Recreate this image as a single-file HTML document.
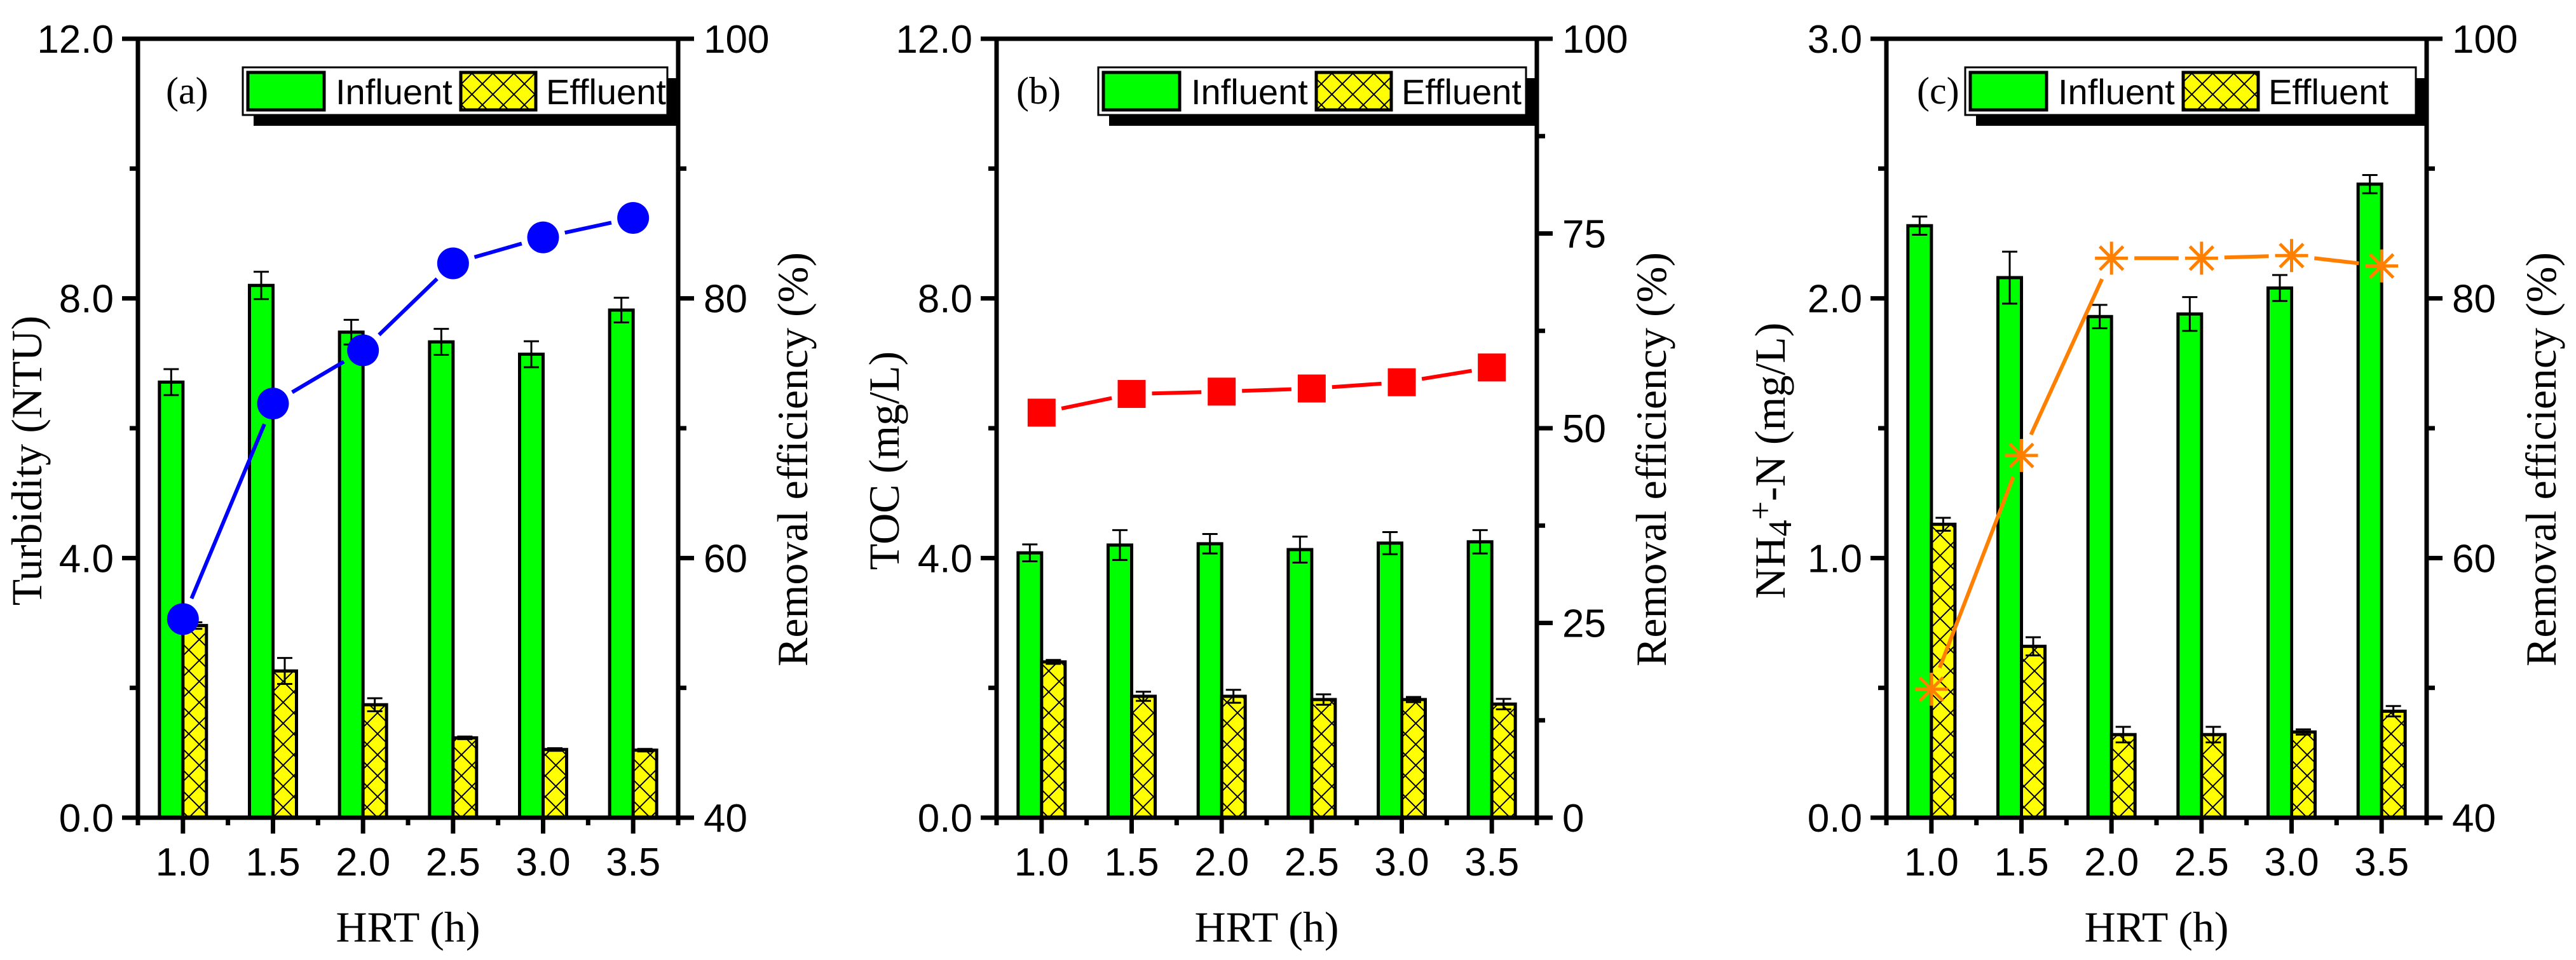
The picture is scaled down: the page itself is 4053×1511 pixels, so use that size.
<!DOCTYPE html>
<html><head><meta charset="utf-8"><style>
html,body{margin:0;padding:0;background:#fff;}
svg{display:block;}
</style></head><body>
<svg id="chart" width="4053" height="1511" viewBox="0 0 4053 1511" xmlns="http://www.w3.org/2000/svg">
<defs>
<pattern id="hatch" patternUnits="userSpaceOnUse" width="33" height="33">
<rect width="33" height="33" fill="#ffff00"/>
<path d="M0,0 L33,33 M33,0 L0,33" stroke="#000" stroke-width="2"/>
</pattern>
</defs>
</svg>
<script>
const categories = [1.0, 1.5, 2.0, 2.5, 3.0, 3.5];
const catLabels = ["1.0","1.5","2.0","2.5","3.0","3.5"];

const aInfluent = [6.71, 8.20, 7.48, 7.33, 7.14, 7.82];
const aInfluentErr = [0.20, 0.21, 0.19, 0.20, 0.20, 0.19];
const aEffluent = [2.96, 2.26, 1.74, 1.23, 1.05, 1.04];
const aEffluentErr = [0.05, 0.20, 0.10, 0.02, 0.02, 0.02];
const aRemoval = [55.3, 71.9, 76.0, 82.7, 84.7, 86.2];
const aLeftTicks = ["0.0","4.0","8.0","12.0"];
const aRightTicks = ["40","60","80","100"];

const bInfluent = [4.08, 4.20, 4.22, 4.13, 4.23, 4.25];
const bInfluentErr = [0.13, 0.23, 0.15, 0.20, 0.17, 0.18];
const bEffluent = [2.40, 1.87, 1.87, 1.82, 1.82, 1.75];
const bEffluentErr = [0.03, 0.07, 0.10, 0.08, 0.04, 0.08];
const bRemoval = [52.0, 54.4, 54.7, 55.1, 55.9, 57.8];
const bLeftTicks = ["0.0","4.0","8.0","12.0"];
const bRightTicks = ["0","25","50","75","100"];

const cInfluent = [2.28, 2.08, 1.93, 1.94, 2.04, 2.44];
const cInfluentErr = [0.035, 0.10, 0.045, 0.065, 0.05, 0.035];
const cEffluent = [1.13, 0.66, 0.32, 0.32, 0.33, 0.41];
const cEffluentErr = [0.025, 0.035, 0.03, 0.03, 0.01, 0.02];
const cRemoval = [49.9, 67.9, 83.1, 83.1, 83.3, 82.5];
const cLeftTicks = ["0.0","1.0","2.0","3.0"];
const cRightTicks = ["40","60","80","100"];

const NS = "http://www.w3.org/2000/svg";
const svg = document.getElementById('chart');
const SANS = '"Liberation Sans", Arial, sans-serif';
const SERIF = '"Liberation Serif", "Times New Roman", serif';
function mk(tag, attrs, parent){
  const e = document.createElementNS(NS, tag);
  for (const k in attrs) e.setAttribute(k, attrs[k]);
  (parent||svg).appendChild(e);
  return e;
}
const TOP = 61, BOT = 1287, W = 850;

function panel(p){
  const g = mk('g', {});
  
  
  const L = p.left, R = p.left + W;
  const x = v => L + (v - 0.75) / 3 * W;
  const yL = v => BOT - v / p.lmax * (BOT - TOP);
  const yR = v => BOT - (v - p.rmin) / (p.rmax - p.rmin) * (BOT - TOP);
  const bw = 37;
  categories.forEach((c, i) => {
    const cx = x(c);
    const b1 = mk('rect', {x: cx - bw, y: yL(p.inf[i]), width: bw, height: BOT - yL(p.inf[i]), fill: '#00ff00', stroke: '#000', 'stroke-width': 5}, g);
    
    
    const b2 = mk('rect', {x: cx, y: yL(p.eff[i]), width: bw, height: BOT - yL(p.eff[i]), fill: 'url(#hatch)', stroke: '#000', 'stroke-width': 5}, g);
    
    
    [[cx - bw / 2, p.inf[i], p.infE[i]], [cx + bw / 2, p.eff[i], p.effE[i]]].forEach(([ex, v, e]) => {
      const y1 = yL(v + e), y2 = yL(v - e);
      const eb = mk('path', {d: `M${ex},${y1} L${ex},${y2} M${ex - 12},${y1} L${ex + 12},${y1} M${ex - 12},${y2} L${ex + 12},${y2}`, stroke: '#000', 'stroke-width': 3, fill: 'none'}, g);
      
      
    });
  });
  const pts = categories.map((c, i) => [x(c), yR(p.rem[i])]);
  const gap = p.mr + 10;
  for (let i = 0; i < pts.length - 1; i++) {
    const [x1, y1] = pts[i], [x2, y2] = pts[i + 1];
    const d = Math.hypot(x2 - x1, y2 - y1), ux = (x2 - x1) / d, uy = (y2 - y1) / d;
    const seg = mk('line', {x1: x1 + ux * gap, y1: y1 + uy * gap, x2: x2 - ux * gap, y2: y2 - uy * gap, stroke: p.color, 'stroke-width': 6}, g);
    
    
  }
  pts.forEach(([px, py], i) => {
    let m;
    if (p.marker === 'circle') m = mk('circle', {cx: px, cy: py, r: 25, fill: p.color}, g);
    else if (p.marker === 'square') m = mk('rect', {x: px - 22, y: py - 22, width: 44, height: 44, fill: p.color}, g);
    else {
      const s = 26, t = 18.4;
      m = mk('path', {d: `M${px - s},${py} L${px + s},${py} M${px},${py - s} L${px},${py + s} M${px - t},${py - t} L${px + t},${py + t} M${px - t},${py + t} L${px + t},${py - t}`, stroke: p.color, 'stroke-width': 5, fill: 'none'}, g);
    }
    
    
  });
  const fr = mk('path', {d: `M${L - 25},${TOP} L${R},${TOP} M${L},${TOP} L${L},${BOT} M${R},${TOP} L${R},${BOT} M${L - 25},${BOT} L${R + 25},${BOT}`, stroke: '#000', 'stroke-width': 7, fill: 'none'}, g);
  
  
  const lstep = p.lmax / (p.lticks.length - 1);
  p.lticks.forEach((t, i) => {
    const v = i * lstep, y = yL(v);
    mk('line', {x1: L - 25, y1: y, x2: L, y2: y, stroke: '#000', 'stroke-width': 7}, g);
    if (i < p.lticks.length - 1) mk('line', {x1: L - 13, y1: yL(v + lstep / 2), x2: L, y2: yL(v + lstep / 2), stroke: '#000', 'stroke-width': 7}, g);
    const tx = mk('text', {x: L - 38, y: y + 22, 'text-anchor': 'end', 'font-family': SANS, 'font-size': 62}, g);
    tx.textContent = t;
    
    
  });
  const rstep = (p.rmax - p.rmin) / (p.rticks.length - 1);
  p.rticks.forEach((t, i) => {
    const v = p.rmin + i * rstep, y = yR(v);
    mk('line', {x1: R, y1: y, x2: R + 25, y2: y, stroke: '#000', 'stroke-width': 7}, g);
    if (i < p.rticks.length - 1) mk('line', {x1: R, y1: yR(v + rstep / 2), x2: R + 13, y2: yR(v + rstep / 2), stroke: '#000', 'stroke-width': 7}, g);
    const tx = mk('text', {x: R + 40, y: y + 22, 'text-anchor': 'start', 'font-family': SANS, 'font-size': 62}, g);
    tx.textContent = t;
    
    
  });
  categories.forEach((c, i) => {
    const cx = x(c);
    mk('line', {x1: cx, y1: BOT, x2: cx, y2: BOT + 25, stroke: '#000', 'stroke-width': 7}, g);
    const tx = mk('text', {x: cx, y: BOT + 91, 'text-anchor': 'middle', 'font-family': SANS, 'font-size': 62}, g);
    tx.textContent = catLabels[i];
    
    
  });
  for (let v = 0.75; v <= 3.76; v += 0.5) mk('line', {x1: x(v), y1: BOT, x2: x(v), y2: BOT + 12, stroke: '#000', 'stroke-width': 7}, g);
  const xt = mk('text', {x: L + W / 2, y: 1482, 'text-anchor': 'middle', 'font-family': SERIF, 'font-size': 68}, g);
  xt.textContent = 'HRT (h)';
  
  
  const lcx = L - p.ltOff, lcy = 725;
  const lt = mk('text', {x: lcx, y: lcy, 'text-anchor': 'middle', 'font-family': SERIF, 'font-size': 68, transform: `rotate(-90 ${lcx} ${lcy}) translate(0 22)`}, g);
  lt.innerHTML = p.ltitle;
  
  
  const rcx = R + 181, rcy = 723;
  const rt = mk('text', {x: rcx, y: rcy, 'text-anchor': 'middle', 'font-family': SERIF, 'font-size': 68, transform: `rotate(-90 ${rcx} ${rcy}) translate(0 22)`}, g);
  rt.textContent = 'Removal efficiency (%)';
  
  
  const pl = mk('text', {x: L + p.plX, y: 163, 'font-family': SERIF, 'font-size': 60}, g);
  pl.textContent = '(' + p.id + ')';
  
  
  const lx = L + p.lgX, lw = R - 17 - lx;
  const lg = mk('g', {}, g);
  
  
  mk('rect', {x: lx + 17, y: 123, width: lw, height: 75, fill: '#000'}, lg);
  mk('rect', {x: lx, y: 106, width: lw, height: 75, fill: '#fff', stroke: '#000', 'stroke-width': 3}, lg);
  const s1 = mk('rect', {x: lx + 8, y: 114, width: 120, height: 59, fill: '#00ff00', stroke: '#000', 'stroke-width': 5}, lg);
  
  
  const t1 = mk('text', {x: lx + 146, y: 164, 'font-family': SANS, 'font-size': 56}, lg);
  t1.textContent = 'Influent';
  
  
  const s2 = mk('rect', {x: lx + 343, y: 114, width: 118, height: 59, fill: 'url(#hatch)', stroke: '#000', 'stroke-width': 5}, lg);
  
  
  const t2 = mk('text', {x: lx + 477, y: 164, 'font-family': SANS, 'font-size': 56}, lg);
  t2.textContent = 'Effluent';
  
  
}

panel({id: 'a', left: 217, lmax: 12, rmin: 40, rmax: 100, inf: aInfluent, infE: aInfluentErr, eff: aEffluent, effE: aEffluentErr, rem: aRemoval, lticks: aLeftTicks, rticks: aRightTicks, color: '#0000ff', marker: 'circle', mr: 25, ltitle: 'Turbidity (NTU)', ltOff: 174, plX: 44, lgX: 165});
panel({id: 'b', left: 1568, lmax: 12, rmin: 0, rmax: 100, inf: bInfluent, infE: bInfluentErr, eff: bEffluent, effE: bEffluentErr, rem: bRemoval, lticks: bLeftTicks, rticks: bRightTicks, color: '#ff0000', marker: 'square', mr: 22, ltitle: 'TOC (mg/L)', ltOff: 176, plX: 31, lgX: 160});
panel({id: 'c', left: 2968, lmax: 3, rmin: 40, rmax: 100, inf: cInfluent, infE: cInfluentErr, eff: cEffluent, effE: cEffluentErr, rem: cRemoval, lticks: cLeftTicks, rticks: cRightTicks, color: '#ff8000', marker: 'star', mr: 26, ltitle: 'NH<tspan baseline-shift="-20%" font-size="52">4</tspan><tspan baseline-shift="40%" font-size="52">+</tspan>-N (mg/L)', ltOff: 182, plX: 48, lgX: 124});
</script>
</body></html>
